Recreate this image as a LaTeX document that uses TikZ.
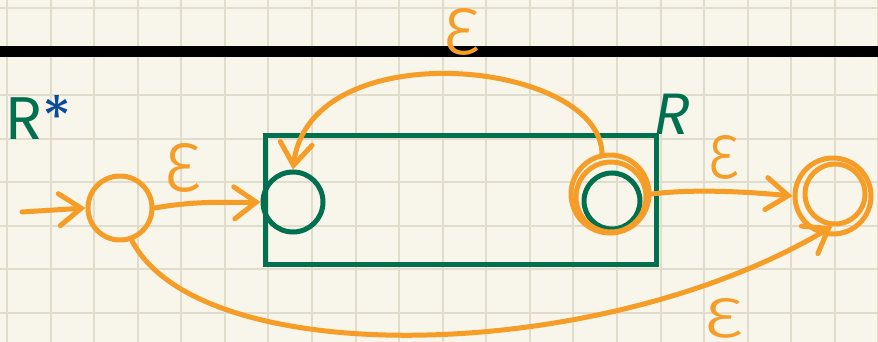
\documentclass[tikz,border=0pt]{standalone}
\usepackage{fontspec}
\usepackage{graphicx}
\usetikzlibrary{arrows.meta}
\newfontfamily\labelfont{Poppins}
\newfontfamily\greekfont{Fira Sans Light}
\definecolor{paper}{HTML}{F8F6EA}
\definecolor{gridc}{HTML}{E0DDCC}
\definecolor{pen}{HTML}{F59D27}
\definecolor{ink}{HTML}{00704F}
\definecolor{blueink}{HTML}{0B4A9B}
\tikzset{
  orangestroke/.style={draw=pen, line width=5pt, line cap=round, line join=round},
  greenstroke/.style={draw=ink, line width=5pt},
  barb/.style={-{Straight Barb[length=22pt,width=32pt,line width=5pt,line cap=round]}},
  state/.style={circle, inner sep=0pt, minimum size=#1},
  eps/.style={text=pen, inner sep=0pt},
}
\newcommand{\epsmark}[2]{\resizebox{#1pt}{#2pt}{\greekfont ε}}
\begin{document}
\begin{tikzpicture}[x=1pt,y=-1pt]
\useasboundingbox (0,0) rectangle (878,342);
\fill[paper] (0,0) rectangle (878,342);
% grid
\foreach \k in {0,...,20} {\draw[gridc, line width=2pt] ({7+43.57*\k},0) -- ({7+43.57*\k},342);}
\foreach \k in {0,...,7} {\draw[gridc, line width=2pt] (0,{8+43.57*\k}) -- (878,{8+43.57*\k});}
% black bar
\fill[black] (0,46.5) rectangle (878,57);
% title
\node[anchor=south west, inner sep=0pt, font=\labelfont\fontsize{60}{60}\selectfont] (title) at (6,140) {\textcolor{ink}{R}\textcolor{blueink}{*}};
% green box
\node[greenstroke, draw, minimum width=391pt, minimum height=129pt, inner sep=0pt, anchor=north west] (box) at (263,133) {};
\node[text=ink, font=\labelfont\fontsize{58}{58}\selectfont\itshape, inner sep=0pt] (rlabel) at (673,114) {R};
% states
\node[state=64pt, orangestroke] (q0) at (120,208) {};
\node[state=60pt, greenstroke, draw] (s1) at (293,202) {};
\node[state=56pt, greenstroke, draw] (s2) at (612,201) {};
\node[state=78pt, orangestroke] (s2o) at (610,194) {};
\node[state=70pt, orangestroke] (s2oi) at (611,197) {};
\node[state=76pt, orangestroke] (f) at (833,196) {};
\node[state=60pt, orangestroke] (fi) at (835,194) {};
\coordinate (start) at (22,212);
\coordinate (loopstart) at (602,156);
% connectors
\draw[orangestroke, barb] (start) -- (q0.west);
\draw[orangestroke, barb] (q0.east) .. controls (200,200) and (230,203) .. (s1.west);
\draw[orangestroke, barb] (loopstart) .. controls (605,60) and (310,30) .. (s1.north);
\draw[orangestroke, barb] (s2o.east) .. controls (700,188) and (760,193) .. (f.west);
\draw[orangestroke, barb] (q0.-70) .. controls (200,372) and (600,365) .. (fi.-95);
% labels
\node[eps] (e1) at (183,168) {\epsmark{38}{48}};
\node[eps] (e2) at (462,32) {\epsmark{38}{46}};
\node[eps] (e3) at (723,157) {\epsmark{32}{43}};
\node[eps] (e4) at (724,318) {\epsmark{40}{39}};
\end{tikzpicture}
\end{document}
